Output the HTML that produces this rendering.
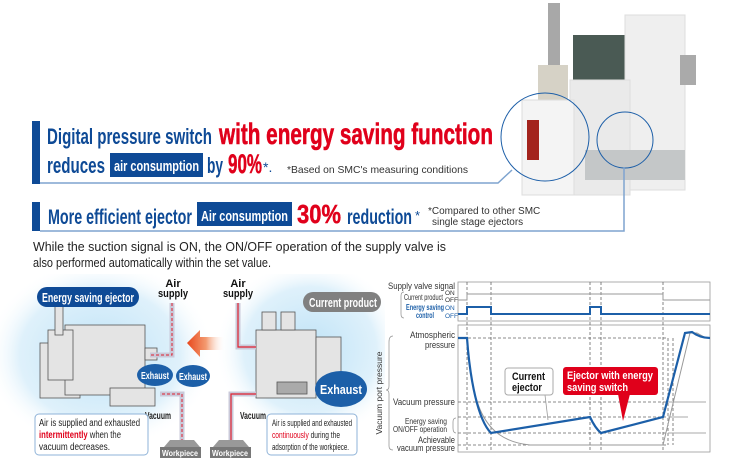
<!DOCTYPE html>
<html><head><meta charset="utf-8"><style>
html,body{margin:0;padding:0;background:#fff;}
svg{display:block;font-family:"Liberation Sans Narrow","Liberation Sans",sans-serif;}
</style></head><body>
<svg width="735" height="472" viewBox="0 0 735 472" xmlns="http://www.w3.org/2000/svg">
<defs>
<radialGradient id="glow" cx="50%" cy="50%" r="50%">
<stop offset="0" stop-color="#bfe3f7"/><stop offset="0.7" stop-color="#dff1fb"/><stop offset="1" stop-color="#fff" stop-opacity="0"/>
</radialGradient>
<linearGradient id="arr" x1="1" x2="0" y1="0" y2="0">
<stop offset="0" stop-color="#fff" stop-opacity="0"/><stop offset="0.5" stop-color="#f39a70"/><stop offset="1" stop-color="#e8481c"/>
</linearGradient>
<clipPath id="lc"><rect x="0" y="274" width="385" height="198"/></clipPath>
</defs>

<!-- product image -->
<g>
<rect x="548" y="3" width="12" height="70" fill="#a8a8a8"/>
<rect x="538" y="65" width="30" height="35" fill="#d6d2c6"/>
<rect x="573" y="35" width="55" height="130" fill="#4a5a54"/>
<rect x="625" y="15" width="60" height="175" fill="#efefef" stroke="#ddd"/>
<rect x="570" y="80" width="60" height="115" fill="#eaeaea" stroke="#ddd"/>
<rect x="522" y="100" width="52" height="95" fill="#f4f4f4" stroke="#ddd"/>
<rect x="527" y="120" width="12" height="40" fill="#a3231c"/>
<rect x="585" y="150" width="100" height="30" fill="#c4c7c8"/>
<rect x="680" y="55" width="16" height="30" fill="#aaa"/>
<circle cx="545" cy="137" r="44" fill="none" stroke="#1d5fa8" stroke-width="1"/>
<circle cx="625" cy="140" r="28" fill="none" stroke="#1d5fa8" stroke-width="1"/>
<polyline points="40,183 498,183 512,170" fill="none" stroke="#7fa4cf" stroke-width="1.5"/>
<polyline points="40,231 624,231 624,167" fill="none" stroke="#7fa4cf" stroke-width="1.5"/>
</g>

<!-- banner 1 -->
<rect x="32" y="121" width="8" height="63" fill="#0e4a96"/>
<text x="47" y="144" font-size="22" font-weight="bold" fill="#0e4a96" textLength="165" lengthAdjust="spacingAndGlyphs">Digital pressure switch</text>
<text x="219" y="144" font-size="30" font-weight="bold" fill="#e0001b" stroke="#e0001b" stroke-width="0.6" textLength="274" lengthAdjust="spacingAndGlyphs">with energy saving function</text>
<text x="47" y="173" font-size="22" font-weight="bold" fill="#0e4a96" textLength="58" lengthAdjust="spacingAndGlyphs">reduces</text>
<rect x="110" y="153" width="93" height="24" fill="#0e4a96"/>
<text x="114" y="171" font-size="15" font-weight="bold" fill="#fff" textLength="85" lengthAdjust="spacingAndGlyphs">air consumption</text>
<text x="207" y="173" font-size="22" font-weight="bold" fill="#0e4a96" textLength="16" lengthAdjust="spacingAndGlyphs">by</text>
<text x="228" y="173" font-size="27" font-weight="bold" fill="#e0001b" stroke="#e0001b" stroke-width="0.5" textLength="34" lengthAdjust="spacingAndGlyphs">90%</text>
<text x="263" y="172" font-size="14" fill="#0e4a96">*.</text>
<text x="287" y="173" font-size="10.5" fill="#333" font-family="Liberation Sans,sans-serif" textLength="181" lengthAdjust="spacingAndGlyphs">*Based on SMC's measuring conditions</text>

<!-- banner 2 -->
<rect x="32" y="202" width="8" height="29" fill="#0e4a96"/>
<text x="48" y="224" font-size="21" font-weight="bold" fill="#0e4a96" textLength="144" lengthAdjust="spacingAndGlyphs">More efficient ejector</text>
<rect x="197" y="202" width="95" height="24" fill="#0e4a96"/>
<text x="201" y="221" font-size="15" font-weight="bold" fill="#fff" textLength="87" lengthAdjust="spacingAndGlyphs">Air consumption</text>
<text x="297" y="223" font-size="26" font-weight="bold" fill="#e0001b" stroke="#e0001b" stroke-width="0.5" textLength="44" lengthAdjust="spacingAndGlyphs">30%</text>
<text x="347" y="224" font-size="21" font-weight="bold" fill="#0e4a96" textLength="65" lengthAdjust="spacingAndGlyphs">reduction</text>
<text x="415" y="220" font-size="13" fill="#0e4a96">*</text>
<text x="428" y="214" font-size="10" fill="#333" font-family="Liberation Sans,sans-serif">*Compared to other SMC</text>
<text x="432" y="225" font-size="10" fill="#333" font-family="Liberation Sans,sans-serif">single stage ejectors</text>

<!-- left diagram glow -->
<g clip-path="url(#lc)">
<ellipse cx="100" cy="355" rx="115" ry="95" fill="url(#glow)"/>
<ellipse cx="310" cy="350" rx="95" ry="90" fill="url(#glow)"/>
</g>

<text x="33" y="251" font-size="13" fill="#222" font-family="Liberation Sans,sans-serif" textLength="413" lengthAdjust="spacingAndGlyphs">While the suction signal is ON, the ON/OFF operation of the supply valve is</text>
<text x="33" y="267" font-size="13" fill="#222" font-family="Liberation Sans,sans-serif" textLength="238" lengthAdjust="spacingAndGlyphs">also performed automatically within the set value.</text>

<!-- ejector body -->
<g fill="#e4e4e4" stroke="#555" stroke-width="0.8">
<rect x="40" y="343" width="40" height="55" />
<rect x="65" y="325" width="80" height="70"/>
<rect x="48" y="330" width="25" height="50"/>
<rect x="110" y="388" width="45" height="18"/>
<rect x="55" y="305" width="8" height="30"/>
<rect x="145" y="348" width="12" height="12"/>
</g>
<g fill="#e4e4e4" stroke="#555" stroke-width="0.8">
<rect x="256" y="330" width="60" height="68"/>
<rect x="316" y="337" width="25" height="50"/>
<rect x="262" y="312" width="14" height="18"/>
<rect x="281" y="312" width="14" height="18"/>
<rect x="277" y="382" width="30" height="12" fill="#aaa"/>
</g>
<!-- pipes -->
<path d="M172 303 V355 H150" fill="none" stroke="#c9c9d9" stroke-width="5"/>
<path d="M172 303 V355 H150" fill="none" stroke="#e02030" stroke-width="1" stroke-dasharray="3,2"/>
<path d="M182 442 V394 H160" fill="none" stroke="#c9c9d9" stroke-width="5"/>
<path d="M182 442 V394 H160" fill="none" stroke="#e02030" stroke-width="1" stroke-dasharray="3,2"/>
<path d="M238 303 V347 H256" fill="none" stroke="#c9c9d9" stroke-width="5"/>
<path d="M238 303 V347 H256" fill="none" stroke="#e02030" stroke-width="1.2"/>
<path d="M231 442 V394 H256" fill="none" stroke="#c9c9d9" stroke-width="5"/>
<path d="M231 442 V394 H256" fill="none" stroke="#e02030" stroke-width="1.2"/>
<polygon points="187,343 200,330 200,337 225,337 225,350 200,350 200,357" fill="url(#arr)"/>
<!-- exhaust clouds -->
<ellipse cx="155" cy="375" rx="18" ry="11" fill="#1c5fa8"/>
<text x="155" y="379" font-size="10" font-weight="bold" fill="#fff" text-anchor="middle" textLength="28" lengthAdjust="spacingAndGlyphs">Exhaust</text>
<ellipse cx="193" cy="376" rx="17" ry="11" fill="#1c5fa8"/>
<text x="193" y="380" font-size="10" font-weight="bold" fill="#fff" text-anchor="middle" textLength="28" lengthAdjust="spacingAndGlyphs">Exhaust</text>
<ellipse cx="341" cy="389" rx="26" ry="18" fill="#1c5fa8"/>
<text x="341" y="394" font-size="13" font-weight="bold" fill="#fff" text-anchor="middle" textLength="42" lengthAdjust="spacingAndGlyphs">Exhaust</text>
<!-- labels -->
<rect x="37" y="287" width="102" height="20" rx="10" fill="#0e4a96"/>
<text x="42" y="302" font-size="13" font-weight="bold" fill="#fff" textLength="92" lengthAdjust="spacingAndGlyphs">Energy saving ejector</text>
<rect x="303" y="292" width="78" height="20" rx="10" fill="#808080"/>
<text x="309" y="307" font-size="13" font-weight="bold" fill="#fff" textLength="68" lengthAdjust="spacingAndGlyphs">Current product</text>
<text x="173" y="287" font-size="11" font-weight="bold" fill="#111" text-anchor="middle">Air</text>
<text x="158" y="297" font-size="11" font-weight="bold" fill="#111" textLength="30" lengthAdjust="spacingAndGlyphs">supply</text>
<text x="238" y="287" font-size="11" font-weight="bold" fill="#111" text-anchor="middle">Air</text>
<text x="223" y="297" font-size="11" font-weight="bold" fill="#111" textLength="30" lengthAdjust="spacingAndGlyphs">supply</text>
<text x="145" y="419" font-size="10" font-weight="bold" fill="#222" textLength="26" lengthAdjust="spacingAndGlyphs">Vacuum</text>
<text x="240" y="419" font-size="10" font-weight="bold" fill="#222" textLength="26" lengthAdjust="spacingAndGlyphs">Vacuum</text>
<polygon points="170,440 194,440 200,447 164,447" fill="#999"/>
<rect x="160" y="447" width="41" height="11" fill="#777"/>
<text x="162" y="456" font-size="8.5" font-weight="bold" fill="#fff" textLength="36" lengthAdjust="spacingAndGlyphs">Workpiece</text>
<polygon points="219,440 243,440 249,447 213,447" fill="#999"/>
<rect x="210" y="447" width="41" height="11" fill="#777"/>
<text x="212" y="456" font-size="8.5" font-weight="bold" fill="#fff" textLength="36" lengthAdjust="spacingAndGlyphs">Workpiece</text>
<rect x="35" y="414" width="113" height="41" rx="4" fill="#fff" stroke="#8fb3d8"/>
<text x="39" y="426" font-size="10" fill="#222" textLength="101" lengthAdjust="spacingAndGlyphs">Air is supplied and exhausted</text>
<text x="39" y="438" font-size="10" fill="#222" textLength="82" lengthAdjust="spacingAndGlyphs"><tspan fill="#e0001b" font-weight="bold">intermittently</tspan> when the</text>
<text x="39" y="450" font-size="10" fill="#222" textLength="71" lengthAdjust="spacingAndGlyphs">vacuum decreases.</text>
<rect x="267" y="414" width="90" height="41" rx="4" fill="#fff" stroke="#8fb3d8"/>
<text x="272" y="426" font-size="9" fill="#222" textLength="80" lengthAdjust="spacingAndGlyphs">Air is supplied and exhausted</text>
<text x="272" y="438" font-size="9" fill="#222" textLength="68" lengthAdjust="spacingAndGlyphs"><tspan fill="#e0001b">continuously</tspan> during the</text>
<text x="272" y="450" font-size="9" fill="#222" textLength="77" lengthAdjust="spacingAndGlyphs">adsorption of the workpiece.</text>

<!-- chart -->
<g fill="none">
<rect x="458" y="282" width="252" height="39" stroke="#999" stroke-width="0.8"/>
<rect x="458" y="325" width="252" height="127" stroke="#999" stroke-width="0.8"/>
<g stroke="#666" stroke-width="0.8" stroke-dasharray="3,2">
<line x1="467" y1="282" x2="467" y2="452"/><line x1="491" y1="282" x2="491" y2="452"/>
<line x1="590" y1="282" x2="590" y2="452"/><line x1="601" y1="282" x2="601" y2="452"/>
<line x1="663" y1="282" x2="663" y2="452"/>
<line x1="458" y1="338" x2="668" y2="338"/>
<line x1="458" y1="402" x2="668" y2="402"/>
<line x1="458" y1="417" x2="668" y2="417"/>
<line x1="458" y1="433" x2="668" y2="433"/>
<line x1="458" y1="445" x2="668" y2="445"/>
<line x1="668" y1="338" x2="668" y2="445"/><line x1="673" y1="338" x2="673" y2="445"/>
</g>
<g stroke="#aaa" stroke-width="1">
<line x1="668" y1="402" x2="706" y2="402"/><line x1="668" y1="417" x2="688" y2="417"/><line x1="668" y1="433" x2="706" y2="433"/>
</g>
<polyline points="458,300 467,300 467,294 663,294 663,300 710,300" stroke="#999" stroke-width="1"/>
<polyline points="458,314 467,314 467,307 491,307 491,314 590,314 590,307 601,307 601,314 710,314" stroke="#1c5fa8" stroke-width="2"/>
<path d="M467,338 C472,400 480,440 530,445 L663,445 L690,333 L697,333 L706,338" stroke="#999" stroke-width="1"/>
<path d="M458,338 L467,338 C470,380 478,420 491,433 L590,417 Q595,428 601,433 L663,417 L685,333 L692,332 Q700,338 710,338" stroke="#1c5fa8" stroke-width="2.2"/>
<path d="M393,336 Q389,336 389,342 V386 Q389,390 386,390 Q389,390 389,394 V446 Q389,450 393,450" stroke="#999" stroke-width="0.8"/>
<path d="M456,418 Q453,418 453,422 V428 Q453,433 456,433" stroke="#999" stroke-width="0.8"/>
<path d="M404,292 Q401,292 401,296 V314 Q401,318 404,318" stroke="#999" stroke-width="0.8"/>
<line x1="545" y1="395" x2="548" y2="420" stroke="#999" stroke-width="0.8"/>
</g>
<g font-size="9.5" fill="#333">
<text x="388" y="289" textLength="67" lengthAdjust="spacingAndGlyphs">Supply valve signal</text>
<text x="404" y="300" font-size="8" textLength="39" lengthAdjust="spacingAndGlyphs">Current product</text>
<text x="445" y="295" font-size="6.5">ON</text><text x="445" y="302" font-size="6.5">OFF</text>
<text x="406" y="310" font-size="8" fill="#1c5fa8" font-weight="bold" textLength="38" lengthAdjust="spacingAndGlyphs">Energy saving</text>
<text x="416" y="318" font-size="8" fill="#1c5fa8" font-weight="bold" textLength="18" lengthAdjust="spacingAndGlyphs">control</text>
<text x="445" y="310" font-size="6.5" fill="#1c5fa8">ON</text><text x="445" y="318" font-size="6.5" fill="#1c5fa8">OFF</text>
<text x="410" y="338" textLength="45" lengthAdjust="spacingAndGlyphs">Atmospheric</text>
<text x="425" y="348" textLength="30" lengthAdjust="spacingAndGlyphs">pressure</text>
<text x="393" y="405" textLength="62" lengthAdjust="spacingAndGlyphs">Vacuum pressure</text>
<text x="405" y="424" font-size="8.5" textLength="42" lengthAdjust="spacingAndGlyphs">Energy saving</text>
<text x="393" y="432" font-size="8.5" textLength="54" lengthAdjust="spacingAndGlyphs">ON/OFF operation</text>
<text x="418" y="443" textLength="37" lengthAdjust="spacingAndGlyphs">Achievable</text>
<text x="397" y="451" textLength="58" lengthAdjust="spacingAndGlyphs">vacuum pressure</text>
</g>
<text transform="translate(382,393) rotate(-90)" font-size="8.5" fill="#333" text-anchor="middle">Vacuum port pressure</text>
<rect x="505" y="368" width="48" height="27" rx="3" fill="#fff" stroke="#aaa"/>
<text x="512" y="380" font-size="11" font-weight="bold" fill="#111" textLength="33" lengthAdjust="spacingAndGlyphs">Current</text>
<text x="512" y="391" font-size="11" font-weight="bold" fill="#111" textLength="30" lengthAdjust="spacingAndGlyphs">ejector</text>
<rect x="563" y="367" width="95" height="28" rx="3" fill="#e0001b"/>
<polygon points="618,394 630,394 623,421" fill="#e0001b"/>
<text x="567" y="379" font-size="11" font-weight="bold" fill="#fff" textLength="86" lengthAdjust="spacingAndGlyphs">Ejector with energy</text>
<text x="567" y="391" font-size="11" font-weight="bold" fill="#fff" textLength="61" lengthAdjust="spacingAndGlyphs">saving switch</text>
</svg>
</body></html>
